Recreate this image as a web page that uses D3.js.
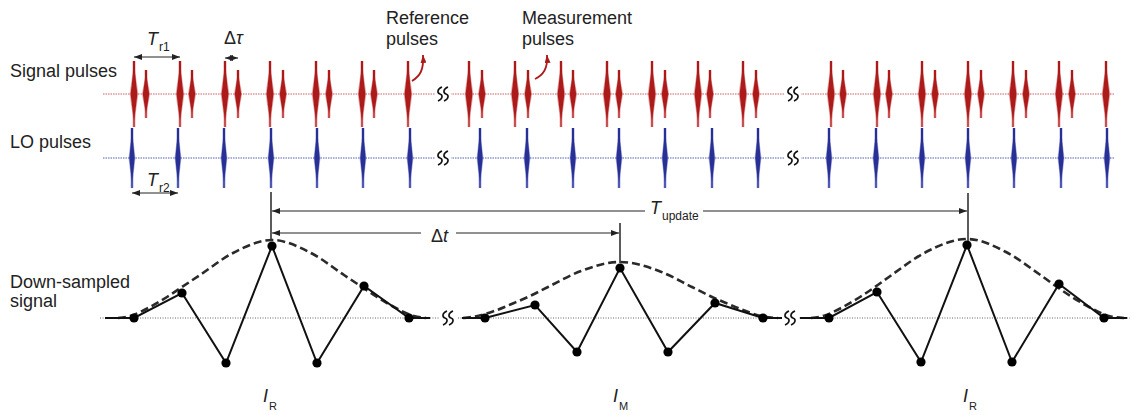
<!DOCTYPE html>
<html><head><meta charset="utf-8">
<script src="https://cdn.jsdelivr.net/npm/d3@7"></script>
<style>
html,body{margin:0;padding:0;background:#fff;}
text{font-family:"Liberation Sans",Arial,sans-serif;fill:#222;}
</style></head>
<body>
<svg id="c" width="1142" height="415"></svg>
<script>
// ---- data (time in arbitrary units) ----
const sigRefT  = [134,180,225,270,316,362,408, 469,515,561,607,652,698,743, 831,877,922,968,1013,1059,1106];
const sigMeasT = [146,192,238,283,329,374, 482,528,573,619,665,710,756, 843,889,935,981,1026,1072];
const loT      = [132,178,224,271,317,363,410, 480,527,573,619,665,712,758, 829,876,922,968,1014,1061,1107];
const pulseAmp = {ref: 33, meas: 24, lo: 30};
const pulseBreakT = [443, 793];
const traceSpans = [[103, 437], [450, 787], [800, 1115]];

const dsT = [[134,182,226,272,317,364,409],[485,535,577,620,668,715,763],[829,877,921,967,1012,1059,1104]];
const dsV = [[0,25,-45,72,-45,32,0],[0,13,-34,50,-34,15,0],[0,26,-44,73,-44,34,0]];
const dsSpans = [[105,430],[462,782],[800,1127]];
const dsBaseSpans = [[100,440],[458,785],[797,1130]];
const dsBreakT = [448, 790];
const envT = [[118,130,150,167,182,200,233,272,311,344,362,377,394,414,426],
              [463,475,497,514,530,548,581,620,659,692,710,726,743,763,778],
              [811,823,843,860,875,893,926,967,1006,1039,1057,1072,1089,1109,1124]];
const envV = [[0,2,11,21,31,43,65,78,65,43,31,21,11,2,0],
              [0,1.5,8,15,22,31,47,56,47,31,22,15,8,1.5,0],
              [0,2,11,21,31,44,66,79,66,44,31,21,11,2,0]];
const markT = {IR1: 271, IM: 620, IR2: 968};

// ---- scales ----
const svg = d3.select("#c");
const x = d3.scaleLinear().domain([0,1142]).range([0,1142]);
const ySig = d3.scaleLinear().domain([-50,50]).range([144,44]);   // baseline 94
const yLO  = d3.scaleLinear().domain([-50,50]).range([208,108]);  // baseline 158
const yDS  = d3.scaleLinear().domain([-100,100]).range([418,218]); // baseline 318

const RED = "#ad1a1a", RED_L = "#d06060", BLUE = "#283096", BLUE_L = "#5560b8";

// markers
const defs = svg.append("defs");
function mk(id, col){
  defs.append("marker").attr("id",id).attr("viewBox","0 0 8 6").attr("refX",8).attr("refY",3)
    .attr("markerWidth",8).attr("markerHeight",6).attr("markerUnits","userSpaceOnUse")
    .attr("orient","auto-start-reverse")
    .append("path").attr("d","M0,0L8,3L0,6Z").attr("fill",col);
}
mk("ak","#222"); mk("ar",RED);

// ---- traces ----
function trace(yS, col){
  traceSpans.forEach(s=>{
    svg.append("line").attr("x1",x(s[0])).attr("x2",x(s[1])).attr("y1",yS(0)).attr("y2",yS(0))
      .attr("stroke",col).attr("stroke-width",1.2).attr("stroke-dasharray","1.5,1");
  });
}
trace(ySig, RED_L); trace(yLO, BLUE_L);

function pulse(g, t, yS, A, col, light, w){
  const cx = x(t), cy = yS(0), top = yS(A), bot = yS(-A);
  const h = (cy-top);
  // soft halo
  g.append("path").attr("d",
     `M${cx},${top+2} L${cx+w*0.9},${cy-h*0.3} L${cx+w*1.3},${cy} L${cx+w*0.9},${cy+h*0.3} L${cx},${bot-2} L${cx-w*0.9},${cy+h*0.3} L${cx-w*1.3},${cy} L${cx-w*0.9},${cy-h*0.3}Z`)
    .attr("fill",light).attr("opacity",0.45);
  g.append("line").attr("x1",cx).attr("x2",cx).attr("y1",top).attr("y2",cy)
    .attr("stroke",col).attr("stroke-width",2.4);
  g.append("line").attr("x1",cx).attr("x2",cx).attr("y1",cy).attr("y2",bot)
    .attr("stroke",light).attr("stroke-width",2.4);
  g.append("path").attr("d",
     `M${cx},${cy-h*0.85} L${cx+w*0.6},${cy-h*0.35} L${cx+w},${cy} L${cx+w*0.6},${cy+h*0.35} L${cx},${cy+h*0.8} L${cx-w*0.6},${cy+h*0.35} L${cx-w},${cy} L${cx-w*0.6},${cy-h*0.35}Z`)
    .attr("fill",col);
}
const gp = svg.append("g");
sigRefT.forEach(t=>pulse(gp,t,ySig,pulseAmp.ref,RED,"#c85050",3.4));
sigMeasT.forEach(t=>pulse(gp,t,ySig,pulseAmp.meas,RED,"#c85050",3.2));
loT.forEach(t=>pulse(gp,t,yLO,pulseAmp.lo,BLUE,"#5058b4",2.7));

// squiggle breaks
function squiggle(cx, cy){
  svg.append("rect").attr("x",cx-8).attr("y",cy-9).attr("width",16).attr("height",18).attr("fill","#fff");
  [-3,3].forEach(o=>{
    const a = cx+o;
    svg.append("path").attr("d",`M${a+2},${cy-7} C${a-3},${cy-5} ${a-3},${cy-1} ${a},${cy} C${a+3},${cy+1} ${a+3},${cy+5} ${a-2},${cy+7}`)
      .attr("fill","none").attr("stroke","#111").attr("stroke-width",1.6);
  });
}
pulseBreakT.forEach(t=>{ squiggle(x(t), ySig(0)); squiggle(x(t), yLO(0)); });

// ---- down-sampled ----
dsBaseSpans.forEach(s=>{
  svg.append("line").attr("x1",x(s[0])).attr("x2",x(s[1])).attr("y1",yDS(0)).attr("y2",yDS(0))
    .attr("stroke","#666").attr("stroke-width",1).attr("stroke-dasharray","1,1.5");
});
dsBreakT.forEach(t=>squiggle(x(t), yDS(0)));

const line = d3.line().x(d=>x(d[0])).y(d=>yDS(d[1]));
const envLine = d3.line().x(d=>x(d[0])).y(d=>yDS(d[1])).curve(d3.curveMonotoneX);
dsT.forEach((ts,i)=>{
  const pts = [[dsSpans[i][0],0]].concat(ts.map((t,j)=>[t,dsV[i][j]])).concat([[dsSpans[i][1],0]]);
  svg.append("path").attr("d",envLine(envT[i].map((t,j)=>[t,envV[i][j]])))
    .attr("fill","none").attr("stroke","#2a2a2a").attr("stroke-width",2.6).attr("stroke-dasharray","8,4");
  svg.append("path").attr("d",line(pts)).attr("fill","none").attr("stroke","#111").attr("stroke-width",2);
  svg.selectAll(null).data(ts.map((t,j)=>[t,dsV[i][j]])).enter().append("circle")
    .attr("cx",d=>x(d[0])).attr("cy",d=>yDS(d[1])).attr("r",4.6).attr("fill","#000");
});

// ---- marker lines & dimension arrows ----
function vline(t,y1,y2){ svg.append("line").attr("x1",x(t)).attr("x2",x(t)).attr("y1",y1).attr("y2",y2)
  .attr("stroke","#333").attr("stroke-width",1.6); }
vline(markT.IR1,192,241); vline(markT.IR2,193,241); vline(markT.IM,223,263);
function hseg(x1,x2,y,start,end,col){
  const l = svg.append("line").attr("x1",x1).attr("x2",x2).attr("y1",y).attr("y2",y)
    .attr("stroke",col||"#222").attr("stroke-width",1);
  if(start) l.attr("marker-start","url(#ak)");
  if(end) l.attr("marker-end","url(#ak)");
}
hseg(x(markT.IR1)+1,645,211,true,false); hseg(703,x(markT.IR2)-1,211,false,true);
hseg(x(markT.IR1)+1,421,233,true,false); hseg(456,x(markT.IM)-1,233,false,true);
hseg(x(sigRefT[0]),x(sigRefT[1]),57,true,true);
hseg(x(sigRefT[2]),x(sigMeasT[2]),58,true,true);
hseg(x(loT[0]),x(loT[1]),193,true,true);

// curly red arrows
svg.append("path").attr("d","M412,81 C420,76 424,70 423,55").attr("fill","none")
  .attr("stroke",RED).attr("stroke-width",1.8).attr("marker-end","url(#ar)");
svg.append("path").attr("d","M535,79 C543,75 548,69 547,55").attr("fill","none")
  .attr("stroke",RED).attr("stroke-width",1.8).attr("marker-end","url(#ar)");

// ---- text ----
function txt(xx,yy,s,size){ return svg.append("text").attr("x",xx).attr("y",yy).attr("font-size",size||18).text(s); }
txt(10,77,"Signal pulses"); txt(10,148,"LO pulses");
txt(10,288,"Down-sampled"); txt(10,307,"signal");
txt(386,24,"Reference"); txt(386,45,"pulses");
txt(522,24,"Measurement"); txt(522,45,"pulses");
function sub(xx,yy,main,s,italicMain,dy,fs){
  const t = svg.append("text").attr("x",xx).attr("y",yy).attr("font-size",18);
  t.append("tspan").attr("font-style",italicMain?"italic":"normal").text(main);
  t.append("tspan").attr("font-size",fs||12).attr("dy",dy||6).attr("dx",1).text(s);
}
sub(147,45,"T","r1",true); sub(147,186,"T","r2",true);
sub(650,214,"T","update",true);
sub(263,402,"I","R",true,8,11); sub(613,402,"I","M",true,8,11); sub(963,402,"I","R",true,8,11);
const dt = svg.append("text").attr("x",224).attr("y",44).attr("font-size",18);
dt.append("tspan").text("Δ"); dt.append("tspan").attr("font-style","italic").text("τ");
const dt2 = svg.append("text").attr("x",431).attr("y",242).attr("font-size",18);
dt2.append("tspan").text("Δ"); dt2.append("tspan").attr("font-style","italic").text("t");
</script>
</body></html>
